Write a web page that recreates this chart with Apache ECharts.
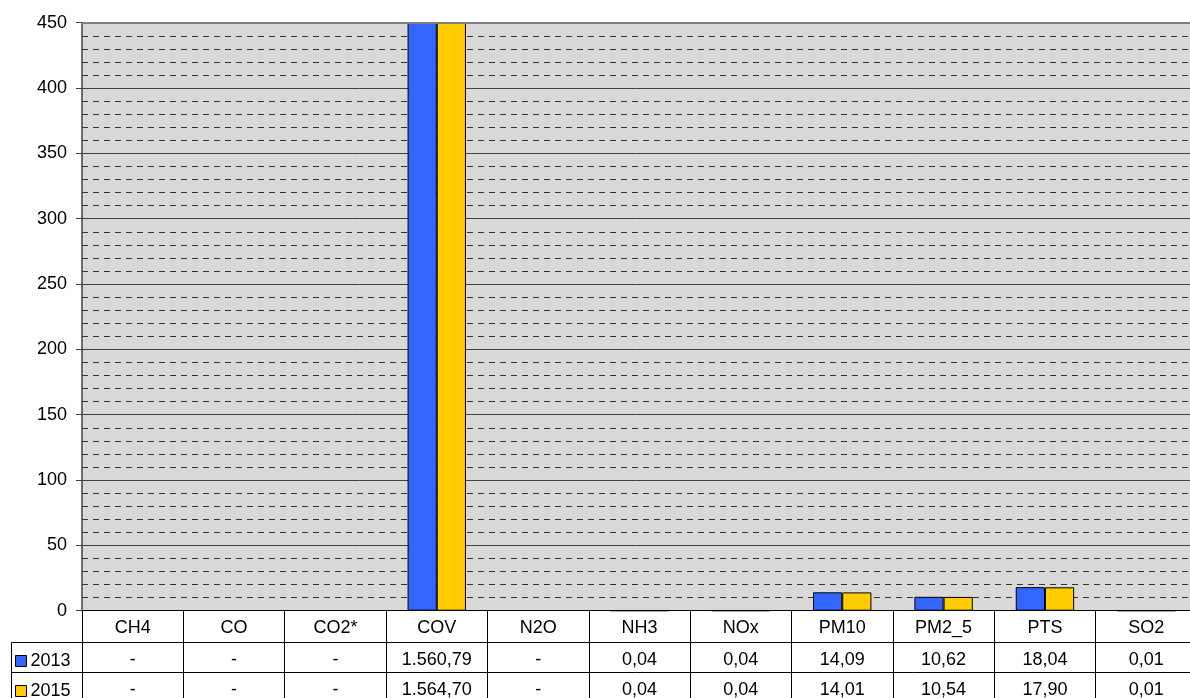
<!DOCTYPE html>
<html>
<head>
<meta charset="utf-8">
<script src="https://cdn.jsdelivr.net/npm/echarts@6/dist/echarts.min.js"></script>
<style>
  html, body { margin: 0; padding: 0; background: #fff; }
  #chart { width: 1190px; height: 698px; }
</style>
</head>
<body>
<div id="chart"></div>
<script>
// Emissions by pollutant, 2013 vs 2015 (null = no value, shown as "-")
const categories = ['CH4', 'CO', 'CO2*', 'COV', 'N2O', 'NH3', 'NOx', 'PM10', 'PM2_5', 'PTS', 'SO2'];
const values2013 = [null, null, null, 1560.79, null, 0.04, 0.04, 14.09, 10.62, 18.04, 0.01];
const values2015 = [null, null, null, 1564.70, null, 0.04, 0.04, 14.01, 10.54, 17.90, 0.01];
const seriesNames = ['2013', '2015'];
const yTicks = [0, 50, 100, 150, 200, 250, 300, 350, 400, 450];

const FONT = "'Liberation Sans', Arial, sans-serif";
const FS = 18;

// Portuguese number style: 1.560,79
function fmt(v) {
  if (v == null) return '-';
  const parts = v.toFixed(2).split('.');
  const intPart = parts[0].replace(/\B(?=(\d{3})+(?!\d))/g, '.');
  return intPart + ',' + parts[1];
}

const chart = echarts.init(document.getElementById('chart'), null, { renderer: 'canvas' });

const tableRowAxis = (offset, rowValues) => ({
  type: 'category',
  data: categories,
  position: 'bottom',
  offset: offset,
  gridIndex: 0,
  axisLine: { show: true, lineStyle: { color: '#000', width: 1 } },
  axisTick: { show: true, interval: 0, length: 30, inside: false, lineStyle: { color: '#000', width: 1 } },
  axisLabel: {
    interval: 0, margin: 8, color: '#000', fontFamily: FONT, fontSize: FS,
    formatter: (v, i) => fmt(rowValues[i])
  },
  splitLine: { show: false }
});

const legendItem = (name, top) => ({
  data: [name], left: 15, top: top, orient: 'horizontal',
  itemWidth: 11, itemHeight: 11, itemGap: 4, icon: 'rect',
  itemStyle: { borderColor: '#000', borderWidth: 1 },
  textStyle: { fontFamily: FONT, fontSize: FS, color: '#000', padding: [0, 0, 0, -1] },
  padding: 0, selectedMode: false
});

const barStyle = (color) => ({ color: color, borderColor: '#000', borderWidth: 1 });

chart.setOption({
  animation: false,
  backgroundColor: '#fff',
  grid: {
    left: 82, width: 1115, top: 22.7, bottom: 87.3,
    outerBoundsMode: 'none', containLabel: false,
    show: true, backgroundColor: '#d9d9d9', borderWidth: 0
  },
  legend: [legendItem(seriesNames[0], 652), legendItem(seriesNames[1], 682)],
  xAxis: [
    {
      type: 'category',
      data: categories,
      position: 'bottom',
      boundaryGap: true,
      axisLine: { show: true, lineStyle: { color: '#000', width: 1 } },
      axisTick: { show: true, interval: 0, length: 32, inside: false, lineStyle: { color: '#000', width: 1 } },
      axisLabel: { interval: 0, margin: 8, color: '#000', fontFamily: FONT, fontSize: FS },
      splitLine: { show: false }
    },
    tableRowAxis(32, values2013),
    tableRowAxis(62, values2015)
  ],
  yAxis: {
    type: 'value',
    min: yTicks[0],
    max: yTicks[yTicks.length - 1],
    interval: 50,
    axisLine: { show: true, lineStyle: { color: '#404040', width: 1.5 } },
    axisTick: { show: true, length: 6, inside: false, lineStyle: { color: '#404040', width: 1 } },
    axisLabel: { margin: 15, color: '#000', fontFamily: FONT, fontSize: FS },
    splitLine: { show: true, lineStyle: { color: '#404040', width: 1 } },
    minorTick: { show: false, splitNumber: 5 },
    minorSplitLine: { show: true, lineStyle: { color: '#333', width: 1, type: [6, 5] } }
  },
  series: [
    {
      name: seriesNames[0], type: 'bar', data: values2013, xAxisIndex: 0,
      barGap: '0%', barCategoryGap: '42.4%', clip: true,
      itemStyle: barStyle('#3366ff'),
      // plot-area top border
      markLine: {
        silent: true, symbol: 'none', label: { show: false },
        lineStyle: { color: '#808080', width: 2, type: 'solid' },
        data: [{ yAxis: yTicks[yTicks.length - 1] }]
      }
    },
    {
      name: seriesNames[1], type: 'bar', data: values2015, xAxisIndex: 0,
      barGap: '0%', barCategoryGap: '42.4%', clip: true,
      itemStyle: barStyle('#ffcc00')
    }
  ],
  graphic: [
    // legend cell borders to the left of the data table
    { type: 'line', shape: { x1: 11.5, y1: 642.5, x2: 82, y2: 642.5 }, style: { stroke: '#000', lineWidth: 1 } },
    { type: 'line', shape: { x1: 11.5, y1: 672.5, x2: 82, y2: 672.5 }, style: { stroke: '#000', lineWidth: 1 } },
    { type: 'line', shape: { x1: 11.5, y1: 642.5, x2: 11.5, y2: 700 }, style: { stroke: '#000', lineWidth: 1 } }
  ]
});
</script>
</body>
</html>
